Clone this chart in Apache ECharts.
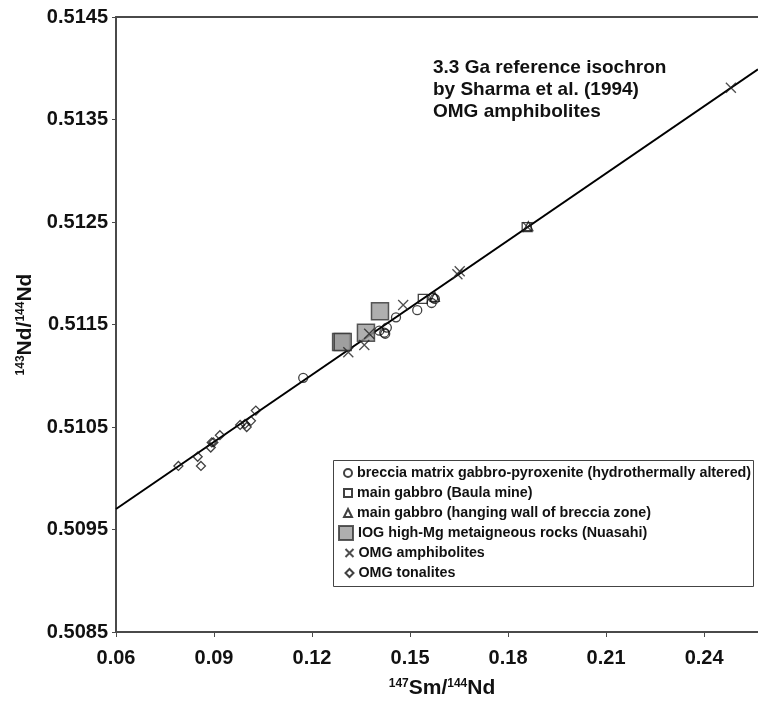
<!DOCTYPE html>
<html>
<head>
<meta charset="utf-8">
<title>Sm-Nd isochron</title>
<script src="https://cdn.jsdelivr.net/npm/echarts@6/dist/echarts.min.js"></script>
<style>
  html, body { margin: 0; padding: 0; background: #fff; }
  #main { width: 758px; height: 704px; }
</style>
</head>
<body>
<div id="main"></div>
<script>
// values: [147Sm/144Nd, 143Nd/144Nd]
var breccia = [
    [0.1173, 0.51098], [0.1406, 0.51144], [0.1421, 0.51142], [0.1429, 0.51147],
    [0.1424, 0.51141], [0.1457, 0.51157], [0.1522, 0.51164], [0.1566, 0.51171],
    [0.1576, 0.51175], [0.1571, 0.51176]
];
var baula = [[0.1539, 0.51175], [0.1857, 0.51245]];
var hangingWall = [[0.1576, 0.51177], [0.1862, 0.51246]];
var iog = [[0.1289, 0.51133], [0.1294, 0.51133], [0.1365, 0.51142], [0.1408, 0.51163]];
var amphibolites = [
    [0.1311, 0.51123], [0.1360, 0.51130], [0.1375, 0.51141], [0.1479, 0.51169],
    [0.1645, 0.51199], [0.1652, 0.51202], [0.1860, 0.51245], [0.2482, 0.51381]
];
var tonalites = [
    [0.0791, 0.51012], [0.0850, 0.51021], [0.0860, 0.51012], [0.0890, 0.51030],
    [0.0893, 0.51035], [0.0898, 0.51035], [0.0918, 0.51042], [0.0980, 0.51052],
    [0.0995, 0.51053], [0.1000, 0.51050], [0.1013, 0.51056], [0.1028, 0.51066]
];
// reference isochron end points (left and right edge of the plot)
var isochron = [[0.06, 0.5097], [0.2565, 0.51399]];

var names = [
    'breccia matrix gabbro-pyroxenite (hydrothermally altered)',
    'main gabbro (Baula mine)',
    'main gabbro (hanging wall of breccia zone)',
    'IOG high-Mg metaigneous rocks (Nuasahi)',
    'OMG amphibolites',
    'OMG tonalites'
];

var FONT = '"Liberation Sans", Arial, sans-serif';
var AXIS_COLOR = '#4a4a4a';
var openStyle = {color: 'rgba(255,255,255,0)', borderColor: '#111', borderWidth: 1.3};

var myChart = echarts.init(document.getElementById('main'));

var legendText = {fontFamily: FONT, fontWeight: 'bold', fontSize: 14.3, color: '#111', lineHeight: 16};

option = {
    backgroundColor: '#fff',
    animation: false,
    grid: {left: 116, top: 17, right: 0, bottom: 70},
    xAxis: [{
        type: 'value',
        min: 0.06,
        max: 0.2565,
        interval: 0.03,
        name: '{s|147}{n|Sm/}{s|144}{n|Nd}',
        nameLocation: 'middle',
        nameGap: 46,
        nameTextStyle: {
            padding: [0, 0, 0, 10],
            rich: {
                s: {fontFamily: FONT, fontWeight: 'bold', fontSize: 12, verticalAlign: 'top', color: '#111'},
                n: {fontFamily: FONT, fontWeight: 'bold', fontSize: 21, color: '#111'}
            }
        },
        axisLine: {lineStyle: {color: AXIS_COLOR, width: 2}},
        axisTick: {length: 5, lineStyle: {color: AXIS_COLOR, width: 1}},
        axisLabel: {
            margin: 16,
            showMaxLabel: false,
            fontFamily: FONT, fontWeight: 'bold', fontSize: 20, color: '#111',
            formatter: function (v) {
                var k = Math.round(v / 0.03);
                return Math.abs(v - k * 0.03) < 1e-6 ? v.toFixed(2) : '';
            }
        },
        splitLine: {show: false}
    }, {
        type: 'value',
        position: 'top',
        min: 0.06,
        max: 0.2565,
        axisLine: {lineStyle: {color: AXIS_COLOR, width: 2}},
        axisTick: {show: false},
        axisLabel: {show: false},
        splitLine: {show: false}
    }],
    yAxis: {
        type: 'value',
        min: 0.5085,
        max: 0.5145,
        interval: 0.001,
        name: '{s|143}{n|Nd/}{s|144}{n|Nd}',
        nameLocation: 'middle',
        nameRotate: 90,
        nameGap: 78,
        nameTextStyle: {
            rich: {
                s: {fontFamily: FONT, fontWeight: 'bold', fontSize: 12, verticalAlign: 'top', color: '#111'},
                n: {fontFamily: FONT, fontWeight: 'bold', fontSize: 21, color: '#111'}
            }
        },
        axisLine: {lineStyle: {color: AXIS_COLOR, width: 2}},
        axisTick: {length: 4, lineStyle: {color: AXIS_COLOR, width: 1}},
        axisLabel: {
            margin: 8,
            fontFamily: FONT, fontWeight: 'bold', fontSize: 20, color: '#111',
            formatter: function (v) { return v.toFixed(4); }
        },
        splitLine: {show: false}
    },
    legend: [{
        data: names.slice(0, 3),
        orient: 'vertical',
        left: 338, top: 460,
        itemWidth: 8, itemHeight: 8, itemGap: 4,
        selectedMode: false,
        textStyle: legendText,
        z: 10
    }, {
        data: [names[3]],
        orient: 'vertical',
        left: 333, top: 520,
        itemWidth: 14, itemHeight: 14, itemGap: 4,
        selectedMode: false,
        textStyle: legendText,
        z: 10
    }, {
        data: names.slice(4),
        orient: 'vertical',
        left: 338, top: 540,
        itemWidth: 8, itemHeight: 8, itemGap: 4,
        selectedMode: false,
        textStyle: legendText,
        z: 10
    }],
    graphic: [{
        type: 'rect',
        shape: {x: 333.5, y: 460.5, width: 420, height: 126},
        style: {fill: '#fff', stroke: '#444', lineWidth: 1},
        z: 1
    }, {
        type: 'text',
        left: 433, top: 57,
        style: {
            text: '3.3 Ga reference isochron\nby Sharma et al. (1994)\nOMG amphibolites',
            font: 'bold 19px ' + FONT,
            lineHeight: 22,
            fill: '#111'
        },
        z: 5
    }],
    series: [{
        name: 'isochron',
        type: 'line',
        data: isochron,
        symbol: 'none',
        lineStyle: {color: '#000', width: 2},
        z: 2
    }, {
        name: names[0],
        type: 'scatter',
        data: breccia,
        symbol: 'circle',
        symbolSize: 9,
        itemStyle: openStyle,
        z: 3
    }, {
        name: names[1],
        type: 'scatter',
        data: baula,
        symbol: 'rect',
        symbolSize: 9,
        itemStyle: openStyle,
        z: 3
    }, {
        name: names[2],
        type: 'scatter',
        data: hangingWall,
        symbol: 'triangle',
        symbolSize: 9,
        itemStyle: openStyle,
        z: 3
    }, {
        name: names[3],
        type: 'scatter',
        data: iog,
        symbol: 'rect',
        symbolSize: 17,
        itemStyle: {color: '#9b9b9b', borderColor: '#333', borderWidth: 1.5},
        z: 4
    }, {
        name: names[4],
        type: 'scatter',
        data: amphibolites,
        symbol: 'path://M0,0L10,10M10,0L0,10',
        symbolSize: 10,
        itemStyle: {color: 'none', borderColor: '#222', borderWidth: 1.3},
        z: 5
    }, {
        name: names[5],
        type: 'scatter',
        data: tonalites,
        symbol: 'diamond',
        symbolSize: 9,
        itemStyle: openStyle,
        z: 3
    }]
};

myChart.setOption(option);
</script>
</body>
</html>
